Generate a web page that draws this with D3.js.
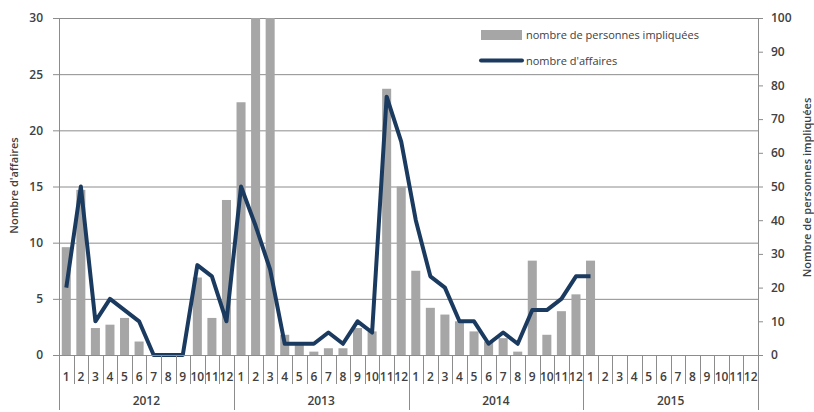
<!DOCTYPE html>
<html>
<head>
<meta charset="utf-8">
<script src="https://cdn.jsdelivr.net/npm/d3@7"></script>
<style>
  body { margin: 0; background: #fff; }
  text { font-family: "Open Sans", sans-serif; fill: #404040; }
</style>
</head>
<body>
<script>
var years = ['2012', '2013', '2014', '2015'];
var months = ['1', '2', '3', '4', '5', '6', '7', '8', '9', '10', '11', '12'];
// nombre de personnes impliquées (right axis), one value per month from 2012-1 to 2015-1
var personnes = [32, 49, 8, 9, 11, 4, 0, 0, 0, 23, 11, 46,
                 75, 110, 120, 6, 3, 1, 2, 2, 8, 7, 79, 50,
                 25, 14, 12, 10, 7, 4, 5, 1, 28, 6, 13, 18,
                 28];
// nombre d'affaires (left axis)
var affaires = [6, 15, 3, 5, 4, 3, 0, 0, 0, 8, 7, 3,
                15, 11.5, 7.6, 1, 1, 1, 2, 1, 3, 2, 23, 19,
                12, 7, 6, 3, 3, 1, 2, 1, 4, 4, 5, 7,
                7];
var leftTicks = [0, 5, 10, 15, 20, 25, 30];
var rightTicks = [0, 10, 20, 30, 40, 50, 60, 70, 80, 90, 100];

var margin = { top: 18, right: 56, bottom: 57, left: 59 },
    width = 814 - margin.left - margin.right,
    height = 412 - margin.top - margin.bottom;

var slots = [];
years.forEach(function(y){ months.forEach(function(m){ slots.push(y + '-' + m); }); });

var svg = d3.select('body').append('svg')
    .attr('width', 814)
    .attr('height', 412)
  .append('g')
    .attr('transform', 'translate(' + margin.left + ',' + margin.top + ')');

var x = d3.scaleBand().domain(slots).range([0, width]).paddingInner(0.38).paddingOuter(0.19);
var yLeft = d3.scaleLinear().domain([0, 30]).range([height, 0]);
var yRight = d3.scaleLinear().domain([0, 100]).range([height, 0]);
var step = x.step();

svg.append('clipPath').attr('id', 'plot')
  .append('rect').attr('width', width).attr('height', height);

// gridlines
svg.selectAll('.grid').data(leftTicks.slice(1)).enter().append('line')
    .attr('x1', 0).attr('x2', width)
    .attr('y1', function(d){ return yLeft(d) + 0.5; })
    .attr('y2', function(d){ return yLeft(d) + 0.5; })
    .attr('stroke', '#8c8c8c').attr('stroke-width', 1);

// bars
svg.append('g').attr('clip-path', 'url(#plot)')
  .selectAll('rect').data(personnes).enter().append('rect')
    .attr('x', function(d, i){ return x(slots[i]); })
    .attr('width', x.bandwidth())
    .attr('y', function(d){ return yRight(d); })
    .attr('height', function(d){ return height - yRight(d); })
    .attr('fill', '#a6a6a6');

// line
var line = d3.line()
    .x(function(d, i){ return x(slots[i]) + x.bandwidth() / 2; })
    .y(function(d){ return yLeft(d); });
svg.append('path').attr('d', line(affaires))
    .attr('fill', 'none').attr('stroke', '#1b3a5f').attr('stroke-width', 4)
    .attr('stroke-linejoin', 'round');

// left axis
var leftAxis = svg.append('g').call(d3.axisLeft(yLeft).tickValues(leftTicks).tickSize(6).tickPadding(10));
leftAxis.select('.domain').attr('stroke', '#8c8c8c').attr('d', 'M0.5,' + height + 'V0');
leftAxis.selectAll('.tick line').attr('stroke', '#8c8c8c');
leftAxis.selectAll('text').style('font-size', '12px').style('font-weight', 600).attr('fill', '#404040');

// right axis
var rightAxis = svg.append('g').attr('transform', 'translate(' + width + ',0)')
    .call(d3.axisRight(yRight).tickValues(rightTicks).tickSize(5).tickPadding(8));
rightAxis.select('.domain').attr('stroke', '#8c8c8c').attr('d', 'M0.5,0V' + height);
rightAxis.selectAll('.tick line').attr('stroke', '#8c8c8c');
rightAxis.selectAll('text').style('font-size', '12px').style('font-weight', 600).attr('fill', '#404040');

// x axis: month labels and separators
var xg = svg.append('g').attr('transform', 'translate(0,' + height + ')');
xg.append('line').attr('x1', 0).attr('x2', width).attr('y1', 0.5).attr('y2', 0.5).attr('stroke', '#8c8c8c');
xg.selectAll('.sep').data(slots).enter().append('line')
    .attr('x1', function(d){ return Math.round(x(d) - x.paddingOuter() * step) + 0.5; })
    .attr('x2', function(d){ return Math.round(x(d) - x.paddingOuter() * step) + 0.5; })
    .attr('y1', 0)
    .attr('y2', function(d, i){ return i % 12 === 0 ? 55 : 29; })
    .attr('stroke', '#8c8c8c');
xg.append('line').attr('x1', width + 0.5).attr('x2', width + 0.5).attr('y1', 0).attr('y2', 55).attr('stroke', '#8c8c8c');
xg.selectAll('.mlab').data(slots).enter().append('text')
    .attr('x', function(d){ return x(d) + x.bandwidth() / 2; })
    .attr('y', 26)
    .attr('text-anchor', 'middle')
    .style('font-size', '12px').style('font-weight', 600)
    .text(function(d){ return d.split('-')[1]; });
xg.selectAll('.ylab').data(years).enter().append('text')
    .attr('x', function(d){ return (x(d + '-1') + x(d + '-12') + x.bandwidth()) / 2; })
    .attr('y', 50)
    .attr('text-anchor', 'middle')
    .style('font-size', '12px').style('font-weight', 600)
    .text(function(d){ return d; });

// axis titles
svg.append('text').attr('text-anchor', 'middle')
    .attr('transform', 'translate(' + (-41) + ',' + (height / 2 - 1) + ')rotate(-90)')
    .style('font-size', '11px').style('font-weight', 600)
    .text("Nombre d'affaires");
svg.append('text').attr('text-anchor', 'middle')
    .attr('transform', 'translate(' + (width + 53) + ',' + (height / 2 + 1) + ')rotate(-90)')
    .style('font-size', '11px').style('font-weight', 600)
    .text('Nombre de personnes impliquées');

// legend
var lg = svg.append('g').attr('transform', 'translate(' + (481 - margin.left) + ',' + (30 - margin.top) + ')');
lg.append('rect').attr('x', 0).attr('y', 0).attr('width', 41).attr('height', 10).attr('fill', '#a6a6a6');
lg.append('text').attr('x', 45).attr('y', 9).style('font-size', '11px').text('nombre de personnes impliquées');
lg.append('line').attr('x1', 0).attr('x2', 41).attr('y1', 30.5).attr('y2', 30.5)
    .attr('stroke', '#1b3a5f').attr('stroke-width', 4).attr('stroke-linecap', 'round');
lg.append('text').attr('x', 45).attr('y', 35).style('font-size', '11px').text("nombre d'affaires");
</script>
</body>
</html>
